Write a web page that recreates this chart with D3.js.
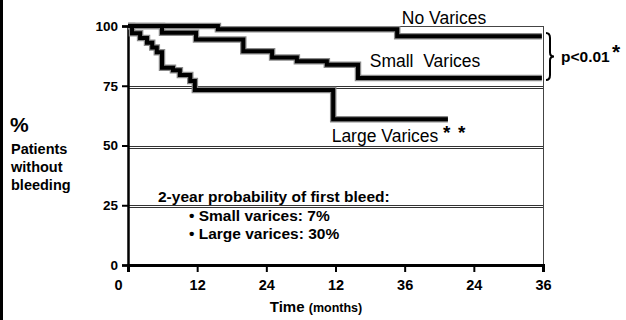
<!DOCTYPE html>
<html>
<head>
<meta charset="utf-8">
<script src="https://cdn.jsdelivr.net/npm/d3@7"></script>
<style>
  html, body { margin: 0; padding: 0; background: #fff; }
  svg { display: block; font-family: "Liberation Sans", Arial, sans-serif; }
  text { white-space: pre; }
</style>
</head>
<body>
<svg id="chart" width="626" height="320"></svg>
<script>
// ---- data ----
const xTickValues = [0, 12, 24, 36, 48, 60, 72];
const xTickLabels = ["0", "12", "24", "12", "36", "24", "36"];
const yTicks = [0, 25, 50, 75, 100];
const gridValues = [25, 50, 75];

const noVaricesTime = [0, 15.6, 46.7, 71.8];
const noVaricesPct  = [100, 98.6, 95.7, 95.7];

const smallVaricesTime = [0, 5.9, 11.8, 20.0, 25.0, 29.3, 34.5, 39.9, 71.8];
const smallVaricesPct  = [100, 97.2, 94.3, 89.4, 86.8, 85.3, 83.8, 78.2, 78.2];

const largeVaricesTime = [0, 0.7, 2.1, 3.3, 4.2, 5.0, 5.9, 7.8, 9.0, 10.8, 11.6, 35.6, 55.5];
const largeVaricesPct  = [100, 97, 95, 93, 91, 89, 82.5, 81.5, 79.5, 77, 73.2, 61, 61];

const seriesNames = ["No Varices", "Small  Varices", "Large Varices"];

// ---- layout ----
const FONT = "Liberation Sans, Arial, sans-serif";
const svg = d3.select("#chart");
const x = d3.scaleLinear().domain([0, 72]).range([128, 543]);
const y = d3.scaleLinear().domain([0, 100]).range([265, 26]);

svg.append("rect").attr("width", 626).attr("height", 320).attr("fill", "#fff");
// left frame bar
svg.append("rect").attr("x", 0).attr("y", 0).attr("width", 3).attr("height", 320).attr("fill", "#000");

// top and right plot border
svg.append("line").attr("x1", x(0)).attr("x2", x(72)).attr("y1", y(100) + 0.5).attr("y2", y(100) + 0.5)
  .attr("stroke", "#444").attr("stroke-width", 1);
svg.append("line").attr("x1", x(72) + 0.5).attr("x2", x(72) + 0.5).attr("y1", y(100)).attr("y2", y(0))
  .attr("stroke", "#444").attr("stroke-width", 1);

// double gridlines
gridValues.forEach(v => {
  [0.5, 2.5].forEach(off => {
    svg.append("line").attr("x1", x(0)).attr("x2", x(72))
      .attr("y1", Math.round(y(v)) + off).attr("y2", Math.round(y(v)) + off)
      .attr("stroke", "#333").attr("stroke-width", 1);
  });
});

// axes
const yAxis = d3.axisLeft(y).tickValues(yTicks).tickSize(6).tickPadding(4).tickFormat(d3.format("d"));
const gy = svg.append("g").attr("transform", `translate(${x(0)},0)`).call(yAxis);
gy.select(".domain").attr("stroke", "#000").attr("stroke-width", 2.5);
gy.selectAll(".tick line").attr("stroke", "#000").attr("stroke-width", 2);
gy.selectAll(".tick text").attr("font-size", 13.5).attr("font-weight", "bold")
  .attr("font-family", FONT).attr("fill", "#000");

const xAxis = d3.axisBottom(x).tickValues(xTickValues).tickSize(7).tickPadding(8)
  .tickFormat((d, i) => xTickLabels[i]);
const gx = svg.append("g").attr("transform", `translate(0,${y(0)})`).call(xAxis);
gx.select(".domain").attr("stroke", "#000").attr("stroke-width", 3);
gx.selectAll(".tick line").attr("stroke", "#000").attr("stroke-width", 2);
gx.selectAll(".tick text").attr("font-size", 14.5).attr("font-weight", "bold")
  .attr("font-family", FONT).attr("fill", "#000")
  .attr("dx", (d, i) => i === 0 ? -10 : 0);

// curves
const line = d3.line().x(d => x(d[0])).y(d => y(d[1])).curve(d3.curveStepAfter);
const series = [
  d3.zip(noVaricesTime, noVaricesPct),
  d3.zip(smallVaricesTime, smallVaricesPct),
  d3.zip(largeVaricesTime, largeVaricesPct)
];
series.forEach(s => {
  svg.append("path").attr("d", line(s)).attr("fill", "none")
    .attr("stroke", "#8a8a8a").attr("stroke-width", 6.5).attr("stroke-linejoin", "miter");
});
series.forEach(s => {
  svg.append("path").attr("d", line(s)).attr("fill", "none")
    .attr("stroke", "#000").attr("stroke-width", 4).attr("stroke-linejoin", "miter");
});

// series labels
svg.append("text").attr("x", 444).attr("y", 24).attr("text-anchor", "middle")
  .attr("font-size", 17.5).text(seriesNames[0]);
svg.append("text").attr("x", 425).attr("y", 67).attr("text-anchor", "middle")
  .attr("font-size", 17.5).text(seriesNames[1]);
svg.append("text").attr("x", 385).attr("y", 142).attr("text-anchor", "middle")
  .attr("font-size", 17.5).text(seriesNames[2]);
svg.append("text").attr("x", 443).attr("y", 139).attr("font-size", 19).attr("font-weight", "bold").text("*");
svg.append("text").attr("x", 458).attr("y", 139).attr("font-size", 19).attr("font-weight", "bold").text("*");

// brace + p value
const bx = 546, by0 = 33, by1 = 80, bm = (by0 + by1) / 2;
svg.append("path")
  .attr("d", `M${bx},${by0} Q${bx + 4},${by0} ${bx + 4},${by0 + 5} L${bx + 4},${bm - 4} Q${bx + 4},${bm} ${bx + 8},${bm} Q${bx + 4},${bm} ${bx + 4},${bm + 4} L${bx + 4},${by1 - 5} Q${bx + 4},${by1} ${bx},${by1}`)
  .attr("fill", "none").attr("stroke", "#000").attr("stroke-width", 2);
svg.append("text").attr("x", 561).attr("y", 62).attr("font-size", 15.5).attr("font-weight", "bold").text("p<0.01");
svg.append("text").attr("x", 612).attr("y", 59).attr("font-size", 21).attr("font-weight", "bold").text("*");

// annotation box text
svg.append("text").attr("x", 158).attr("y", 202).attr("font-size", 15.5).attr("font-weight", "bold")
  .text("2-year probability of first bleed:");
svg.append("text").attr("x", 189).attr("y", 221).attr("font-size", 15.5).attr("font-weight", "bold")
  .text("\u2022 Small varices: 7%");
svg.append("text").attr("x", 189).attr("y", 239).attr("font-size", 15.5).attr("font-weight", "bold")
  .text("\u2022 Large varices: 30%");

// y-axis title
svg.append("text").attr("x", 10).attr("y", 132).attr("font-size", 21).attr("font-weight", "bold").text("%");
const yt = svg.append("text").attr("font-size", 14.5).attr("font-weight", "bold");
["Patients", "without", "bleeding"].forEach((t, i) => {
  yt.append("tspan").attr("x", 11).attr("y", 154 + i * 18).text(t);
});

// x-axis title
const xt = svg.append("text").attr("x", 316).attr("y", 312).attr("text-anchor", "middle")
  .attr("font-weight", "bold");
xt.append("tspan").attr("font-size", 15).text("Time ");
xt.append("tspan").attr("font-size", 12.5).text("(months)");
</script>
</body>
</html>
